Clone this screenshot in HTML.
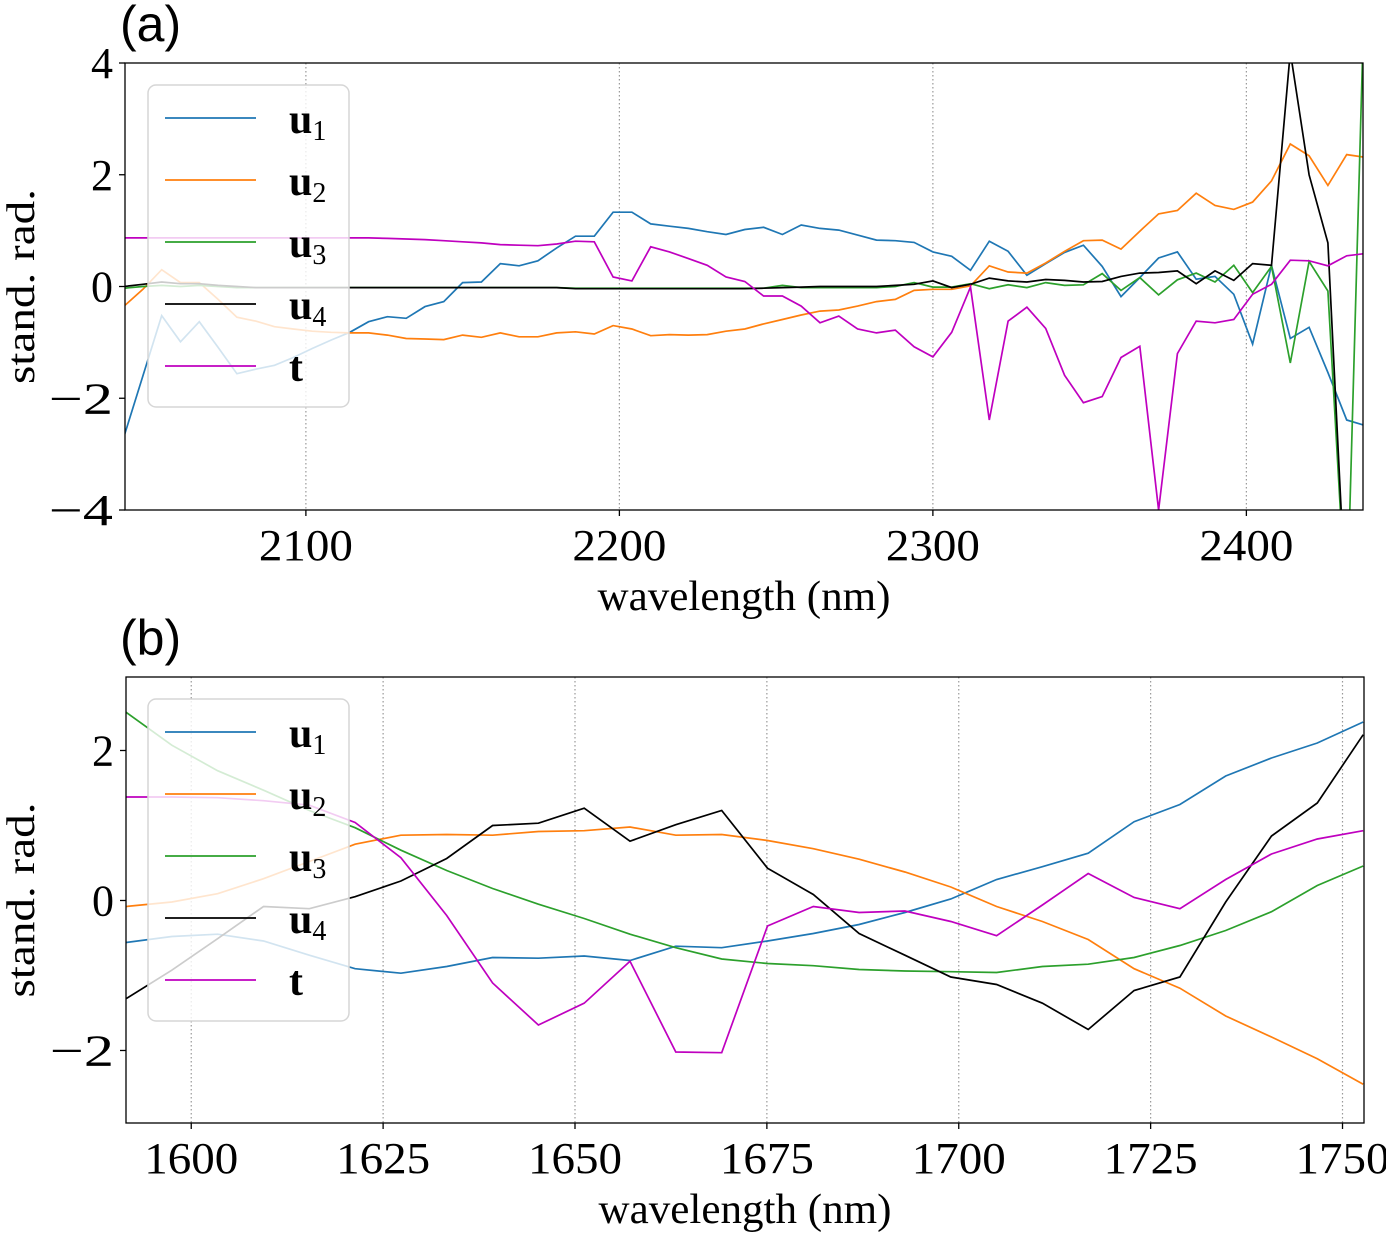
<!DOCTYPE html>
<html><head><meta charset="utf-8"><style>
html,body{margin:0;padding:0;background:#fff;}
svg{display:block;}
text{font-family:"Liberation Serif",serif;fill:#000;}
</style></head><body>
<svg id="fig" width="1386" height="1235" viewBox="0 0 1386 1235" xmlns="http://www.w3.org/2000/svg">
<defs>
<clipPath id="clipA"><rect x="125" y="63" width="1238" height="447"/></clipPath>
<clipPath id="clipB"><rect x="126" y="677" width="1238" height="446"/></clipPath>
</defs>
<g id="panelA"></g>
<g id="panelB"></g>
</svg>
<script>
// Panel (a) data
const aStart = 2042, aStep = 6, aCount = 67;
const aU1 = [-2.68,-1.6,-0.52,-0.99,-0.63,-1.09,-1.56,-1.48,-1.41,-1.27,-1.11,-0.96,-0.82,-0.63,-0.54,-0.57,-0.36,-0.27,0.07,0.08,0.41,0.37,0.46,0.69,0.90,0.90,1.33,1.33,1.12,1.08,1.04,0.98,0.93,1.02,1.06,0.93,1.10,1.04,1.01,0.92,0.83,0.82,0.79,0.62,0.54,0.29,0.81,0.63,0.20,0.41,0.61,0.74,0.36,-0.18,0.16,0.51,0.62,0.13,0.18,-0.14,-1.03,0.38,-0.93,-0.73,-1.54,-2.39,-2.49];
const aU2 = [-0.35,-0.05,0.30,0.07,0.07,-0.23,-0.55,-0.62,-0.72,-0.76,-0.80,-0.82,-0.83,-0.83,-0.87,-0.93,-0.94,-0.95,-0.87,-0.91,-0.83,-0.90,-0.90,-0.83,-0.81,-0.85,-0.70,-0.76,-0.88,-0.86,-0.87,-0.86,-0.80,-0.76,-0.67,-0.59,-0.51,-0.44,-0.42,-0.35,-0.27,-0.23,-0.07,-0.05,-0.05,0.01,0.37,0.26,0.24,0.42,0.63,0.82,0.83,0.67,0.99,1.30,1.36,1.67,1.45,1.38,1.51,1.89,2.55,2.34,1.81,2.36,2.31];
const aU3 = [-0.03,0.0,0.02,0.0,0.02,0.0,-0.02,-0.02,-0.02,-0.02,-0.02,-0.02,-0.02,-0.02,-0.02,-0.02,-0.02,-0.02,-0.02,-0.02,-0.02,-0.02,-0.02,-0.02,-0.03,-0.03,-0.03,-0.03,-0.03,-0.03,-0.03,-0.03,-0.03,-0.03,-0.03,0.02,-0.02,-0.02,-0.02,-0.02,-0.02,0.0,0.07,-0.01,-0.01,0.05,-0.04,0.03,-0.02,0.07,0.02,0.03,0.23,-0.07,0.16,-0.15,0.12,0.24,0.08,0.38,-0.11,0.36,-1.37,0.45,-0.08,-6,6];
const aU4 = [0.0,0.04,0.08,0.05,0.05,0.02,0.0,-0.02,-0.02,-0.02,-0.02,-0.02,-0.02,-0.02,-0.02,-0.02,-0.02,-0.02,-0.02,-0.02,-0.02,-0.02,-0.02,-0.02,-0.04,-0.04,-0.04,-0.04,-0.04,-0.04,-0.04,-0.04,-0.04,-0.04,-0.03,-0.02,-0.01,0.0,0.0,0.0,0.0,0.02,0.04,0.1,-0.02,0.04,0.15,0.1,0.08,0.125,0.11,0.08,0.09,0.18,0.24,0.25,0.28,0.05,0.28,0.11,0.41,0.38,4.2,2.0,0.78,-6,-6];
const aT = [0.87,0.87,0.87,0.87,0.87,0.87,0.87,0.87,0.87,0.87,0.87,0.87,0.87,0.87,0.86,0.85,0.84,0.82,0.80,0.78,0.75,0.74,0.73,0.76,0.81,0.80,0.17,0.10,0.71,0.62,0.50,0.38,0.17,0.09,-0.17,-0.17,-0.35,-0.65,-0.53,-0.76,-0.83,-0.78,-1.08,-1.26,-0.82,-0.01,-2.39,-0.62,-0.37,-0.75,-1.59,-2.08,-1.97,-1.27,-1.07,-4.0,-1.20,-0.62,-0.65,-0.59,-0.14,0.04,0.47,0.46,0.37,0.55,0.59];
const aXTicks = [2100,2200,2300,2400];
const aYTicks = [4,2,0,-2,-4];
const aYTickLabels = ["4","2","0","\u22122","\u22124"];

// Panel (b) data
const bStart = 1591.5, bStep = 5.97, bCount = 28;
const bU1 = [-0.56,-0.48,-0.45,-0.54,-0.73,-0.91,-0.97,-0.88,-0.76,-0.77,-0.74,-0.80,-0.61,-0.63,-0.54,-0.44,-0.32,-0.16,0.02,0.28,0.45,0.63,1.05,1.28,1.66,1.90,2.10,2.38];
const bU2 = [-0.08,-0.02,0.09,0.29,0.52,0.75,0.87,0.88,0.87,0.92,0.93,0.98,0.87,0.88,0.80,0.69,0.55,0.38,0.18,-0.08,-0.28,-0.52,-0.91,-1.17,-1.54,-1.82,-2.11,-2.45];
const bU3 = [2.51,2.07,1.73,1.47,1.20,0.97,0.67,0.40,0.16,-0.05,-0.24,-0.45,-0.63,-0.78,-0.84,-0.87,-0.92,-0.94,-0.95,-0.96,-0.88,-0.85,-0.76,-0.60,-0.40,-0.15,0.20,0.46];
const bU4 = [-1.31,-0.93,-0.51,-0.08,-0.11,0.05,0.26,0.56,1.00,1.03,1.23,0.79,1.01,1.20,0.43,0.08,-0.44,-0.73,-1.02,-1.12,-1.37,-1.72,-1.20,-1.02,-0.02,0.86,1.30,2.21];
const bT = [1.38,1.38,1.37,1.33,1.27,1.04,0.57,-0.20,-1.10,-1.66,-1.37,-0.81,-2.02,-2.03,-0.34,-0.08,-0.16,-0.14,-0.28,-0.47,-0.06,0.36,0.04,-0.11,0.28,0.62,0.82,0.93];
const bXTicks = [1600,1625,1650,1675,1700,1725,1750];
const bYTicks = [2,0,-2];
const bYTickLabels = ["2","0","\u22122"];

const NS = "http://www.w3.org/2000/svg";
function mk(tag, attrs, parent){
  const e = document.createElementNS(NS, tag);
  for (const k in attrs) e.setAttribute(k, attrs[k]);
  parent.appendChild(e);
  return e;
}
const COLORS = {u1:"#1f77b4",u2:"#ff7f0e",u3:"#2ca02c",u4:"#000000",t:"#bf00bf"};

function drawPanel(g, cfg){
  const sx = v => cfg.x0 + (v - cfg.d0) / (cfg.d1 - cfg.d0) * (cfg.x1 - cfg.x0);
  const sy = v => cfg.y0 + (cfg.r1 - v) / (cfg.r1 - cfg.r0) * (cfg.y1 - cfg.y0);
  const xs = [];
  for (let i = 0; i < cfg.n; i++) xs.push(cfg.start + cfg.step * i);
  cfg.xticks.forEach(t => {
    const l = mk("line", {x1:sx(t), x2:sx(t), y1:cfg.y0, y2:cfg.y1, stroke:"#999", "stroke-width":1.2, "stroke-dasharray":"1.5,2.5"}, g);
    
    
  });
  cfg.series.forEach(s => {
    const pts = s.vals.map((v,i) => sx(xs[i]).toFixed(1) + "," + sy(v).toFixed(1)).join(" ");
    const p = mk("polyline", {points:pts, fill:"none", stroke:COLORS[s.key], "stroke-width":1.7, "stroke-linejoin":"miter", "clip-path":"url(#"+cfg.clip+")"}, g);
    
    
  });
  const fr = mk("rect", {x:cfg.x0, y:cfg.y0, width:cfg.x1-cfg.x0, height:cfg.y1-cfg.y0, fill:"none", stroke:"#000", "stroke-width":1.3}, g);
  
  
  cfg.xticks.forEach(t => {
    mk("line", {x1:sx(t), x2:sx(t), y1:cfg.y1, y2:cfg.y1+6, stroke:"#000", "stroke-width":1.3}, g);
    const tx = mk("text", {x:sx(t), y:cfg.y1+50, "text-anchor":"middle", "font-size":44, textLength:94, lengthAdjust:"spacingAndGlyphs"}, g);
    tx.textContent = String(t);
    
    
  });
  cfg.yticks.forEach((t,i) => {
    mk("line", {x1:cfg.x0-6, x2:cfg.x0, y1:sy(t), y2:sy(t), stroke:"#000", "stroke-width":1.3}, g);
    const attrs = {x:cfg.x0-12, y:sy(t)+15, "text-anchor":"end", "font-size":44};
    if (cfg.ylabels[i].length > 1) { attrs.textLength = 64; attrs.lengthAdjust = "spacingAndGlyphs"; }
    const ty = mk("text", attrs, g);
    ty.textContent = cfg.ylabels[i];
    
    
  });
  const xl = mk("text", {x:(cfg.x0+cfg.x1)/2, y:cfg.y1+100, "text-anchor":"middle", "font-size":42, textLength:293, lengthAdjust:"spacingAndGlyphs"}, g);
  xl.textContent = "wavelength (nm)";
  
  
  const yc = (cfg.y0+cfg.y1)/2;
  const yl = mk("text", {x:0, y:0, "text-anchor":"middle", "font-size":40, textLength:195, lengthAdjust:"spacingAndGlyphs", transform:"translate(34,"+yc+") rotate(-90)"}, g);
  yl.textContent = "stand. rad.";
  
  
  const pl = mk("text", {x:120, y:cfg.y0-22, "font-size":50, style:"font-family:'Liberation Sans',sans-serif"}, g);
  pl.textContent = cfg.label;
  
  
  const lg = mk("g", {}, g);
  
  
  const lb = mk("rect", {x:148, y:cfg.legY, width:201, height:322, rx:8, fill:"rgba(255,255,255,0.8)", stroke:"#d6d6d6", "stroke-width":1.5}, lg);
  
  
  const names = [["u","1"],["u","2"],["u","3"],["u","4"],["t",""]];
  cfg.series.forEach((s,i) => {
    const ry = cfg.legY + 33 + i*62;
    const e = mk("g", {}, lg);
    
    
    mk("line", {x1:165, x2:256, y1:ry, y2:ry, stroke:COLORS[s.key], "stroke-width":1.7}, e);
    const tt = mk("text", {x:289, y:ry+15, "font-size":42, "font-weight":"bold"}, e);
    tt.textContent = names[i][0];
    if (names[i][1]) {
      const sb = mk("tspan", {"font-size":28, "font-weight":"normal", dy:7}, tt);
      sb.textContent = names[i][1];
    }
  });
}

drawPanel(document.getElementById("panelA"), {
  x0:125, x1:1363, y0:63, y1:510, d0:2042.3, d1:2437.2, r0:-4, r1:4,
  start:aStart, step:aStep, n:aCount, clip:"clipA",
  xticks:aXTicks, yticks:aYTicks, ylabels:aYTickLabels, label:"(a)", legY:85,
  series:[{key:"u1",vals:aU1},{key:"u2",vals:aU2},{key:"u3",vals:aU3},{key:"u4",vals:aU4},{key:"t",vals:aT}]
});
drawPanel(document.getElementById("panelB"), {
  x0:126, x1:1364, y0:677, y1:1123, d0:1591.5, d1:1752.8, r0:-2.967, r1:2.98,
  start:bStart, step:bStep, n:bCount, clip:"clipB",
  xticks:bXTicks, yticks:bYTicks, ylabels:bYTickLabels, label:"(b)", legY:699,
  series:[{key:"u1",vals:bU1},{key:"u2",vals:bU2},{key:"u3",vals:bU3},{key:"u4",vals:bU4},{key:"t",vals:bT}]
});
</script>
</body></html>
